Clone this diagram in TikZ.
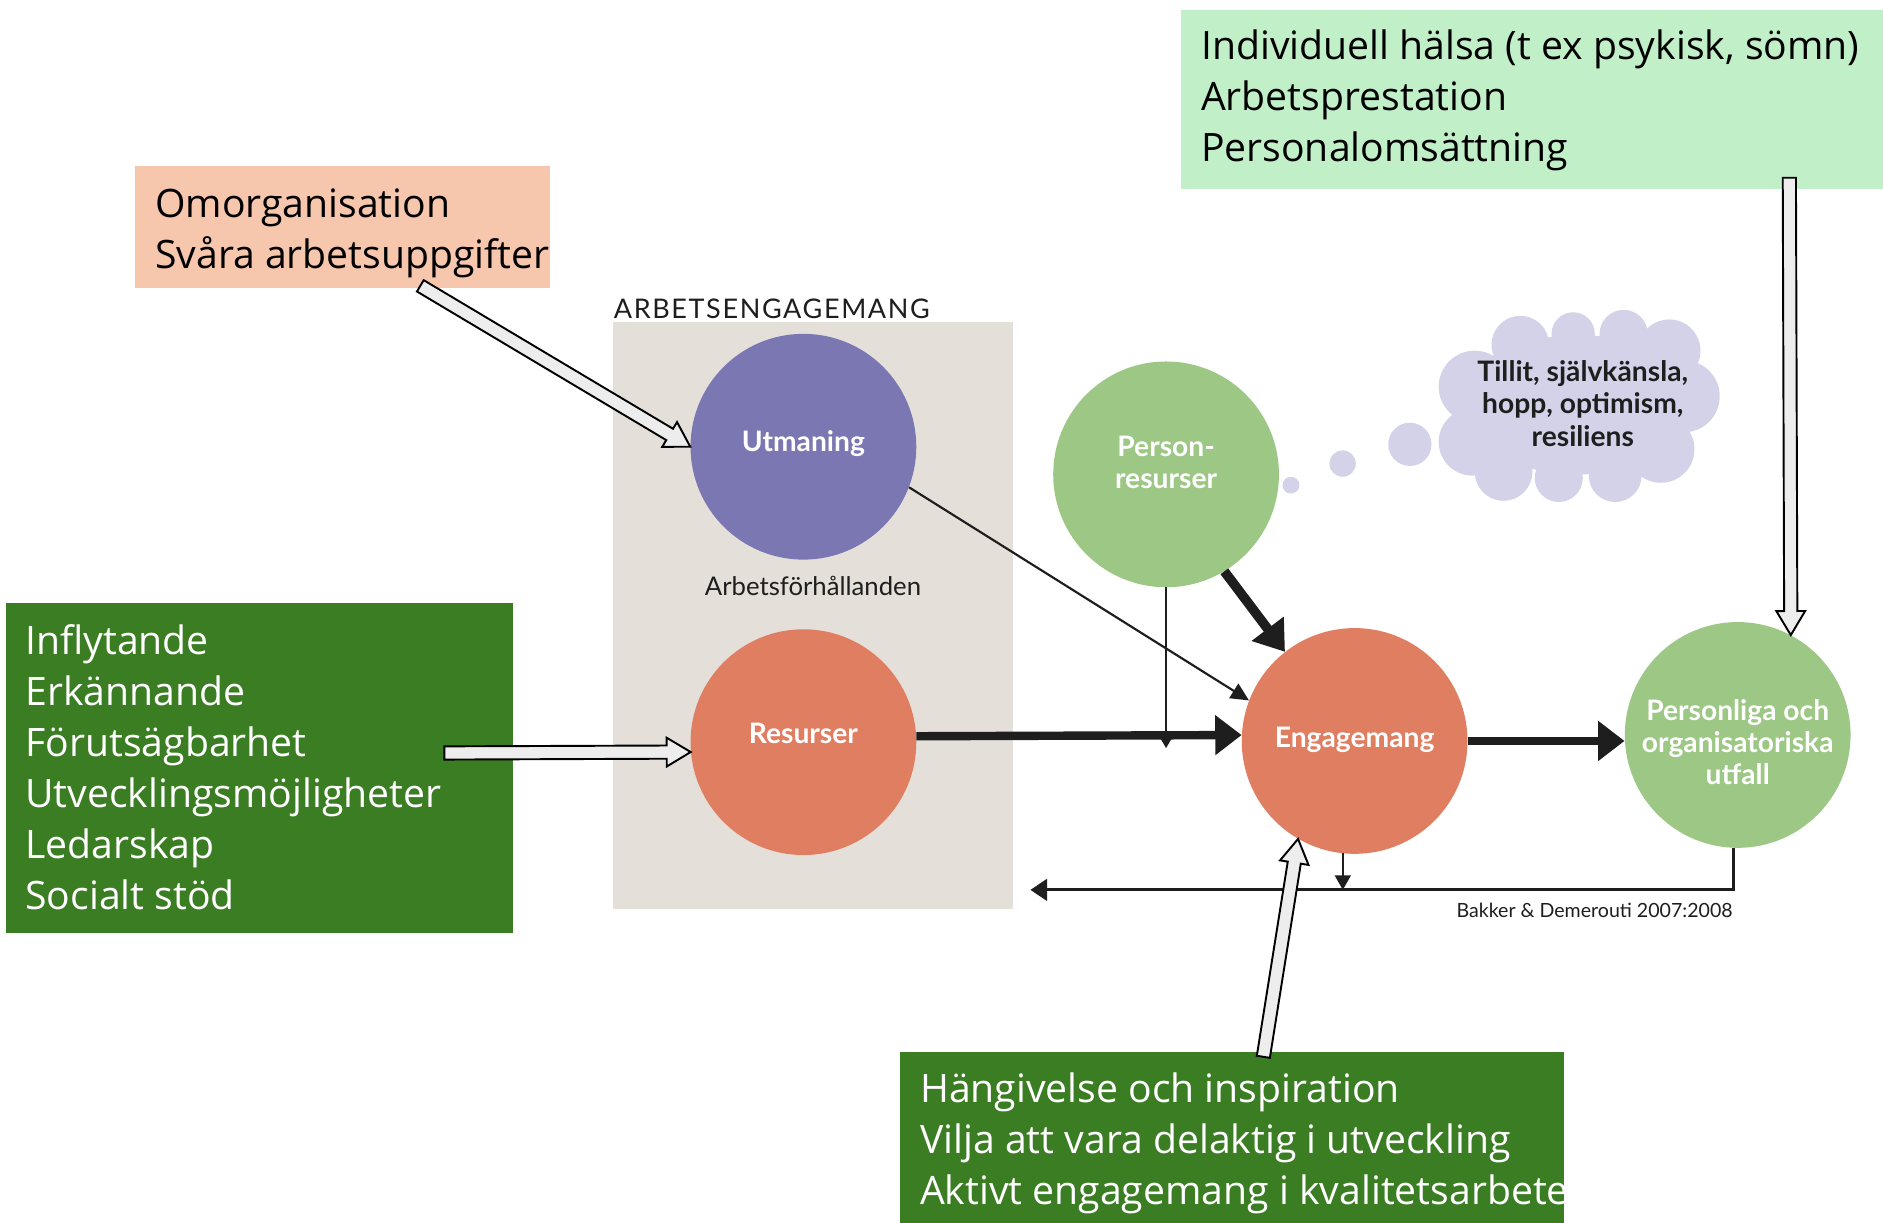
\documentclass[tikz,border=0pt]{standalone}
\usepackage{fontspec}
\usetikzlibrary{arrows.meta,calc}
\newfontfamily\osfont{Open Sans}
\newfontfamily\latofont{Lato}
\definecolor{peach}{HTML}{F6C6AD}
\definecolor{mint}{HTML}{C1F0C8}
\definecolor{dkgreen}{HTML}{3B7D23}
\definecolor{panelgray}{HTML}{E4E0D9}
\definecolor{violet1}{HTML}{7A77B2}
\definecolor{salmon1}{HTML}{E07E62}
\definecolor{green1}{HTML}{9DC784}
\definecolor{lav}{HTML}{D4D2E9}
\definecolor{hollowfill}{HTML}{EDEDED}
\definecolor{ink}{HTML}{1E1E1E}
\newcommand\hollowarrow[2]{%
  \coordinate (hA) at (#1);
  \coordinate (hB) at (#2);
  \coordinate (hH) at ($(hB)!20pt!(hA)$);
  \draw[hollow] ($(hA)!5.5pt!90:(hB)$) -- ($(hH)!5.5pt!90:(hB)$) -- ($(hH)!12pt!90:(hB)$) -- (hB)
    -- ($(hH)!12pt!-90:(hB)$) -- ($(hH)!5.5pt!-90:(hB)$) -- ($(hA)!5.5pt!-90:(hB)$) -- cycle;
}
\tikzset{
  box/.style={rectangle, inner sep=0pt, anchor=north west},
  boxtext/.style={anchor=west, align=left, inner sep=0pt, font=\osfont\fontsize{32.6}{42.5}\selectfont},
  circ/.style={circle, minimum size=188pt, inner sep=0pt},
  clbl/.style={inner sep=0pt, text=white, align=center,
    font=\latofont\bfseries\fontsize{23.5}{27}\selectfont},
  hollow/.style={draw=black, line width=1.6pt, fill=hollowfill, line join=miter},
  thick arrow/.style={draw=ink, line width=7pt, -{Triangle[length=22pt,width=32pt]}},
  thin arrow/.style={draw=ink, line width=1.8pt, -{Triangle[length=15pt,width=14pt]}},
  fbline/.style={draw=ink, line width=2.4pt},
  diatext/.style={inner sep=0pt, text=ink},
}
\begin{document}
\begin{tikzpicture}[x=1pt, y=-1pt]
\useasboundingbox (0,0) rectangle (1568,1018);
\fill[white] (0,0) rectangle (1568,1018);

% background panel
\node[box, fill=panelgray, minimum width=333pt, minimum height=489pt] (panel) at (510,268) {};
\node[diatext, anchor=base west, font=\latofont\fontsize{22.5}{26}\selectfont\addfontfeatures{LetterSpace=6}] (ptitle) at (511,265) {ARBETSENGAGEMANG};
\node[diatext, font=\latofont\fontsize{21.4}{24}\selectfont] (afh) at (677,488) {Arbetsförhållanden};

% thought cloud
\begin{scope}[fill=lav]
  \fill (1315,337) ellipse [x radius=100, y radius=58];
  \fill (1228,322) circle [radius=30];
  \fill (1226,368) circle [radius=28];
  \fill (1252,393) circle [radius=24];
  \fill (1298,398) circle [radius=20];
  \fill (1345,396) circle [radius=22];
  \fill (1383,374) circle [radius=28];
  \fill (1402,330) circle [radius=30];
  \fill (1390,292) circle [radius=26];
  \fill (1352,278) circle [radius=20];
  \fill (1310,278) circle [radius=18];
  \fill (1266,287) circle [radius=24];
  \fill (1174,370) circle [radius=18];
  \fill (1118,386) circle [radius=11];
  \fill (1075,404) circle [radius=7];
\end{scope}
\node[diatext, align=center, font=\latofont\bfseries\fontsize{23.5}{27}\selectfont] (cloud) at (1318,336) {Tillit, självkänsla,\\hopp, optimism,\\resiliens};

% circles
\node[circ, fill=violet1] (utm) at (669,372) {};
\node[circ, fill=salmon1] (res) at (669,618) {};
\node[circ, fill=green1] (per) at (971,395) {};
\node[circ, fill=salmon1] (eng) at (1128,617) {};
\node[circ, fill=green1] (out) at (1447,612) {};
\node[clbl] (utmL) at ([yshift=3pt]utm.center) {Utmaning};
\node[clbl] (resL) at ([yshift=7pt]res.center) {Resurser};
\node[clbl] (perL) at ([yshift=10pt]per.center) {Person-\\resurser};
\node[clbl] (engL) at ([yshift=1pt]eng.center) {Engagemang};
\node[clbl] (outL) at ([yshift=-6pt]out.center) {Personliga och\\organisatoriska\\utfall};

% connectors
\draw[thin arrow] (utm.-21) -- (eng.159);
\draw[draw=ink, line width=1.6pt, -{Triangle[length=9pt,width=10pt]}] (per.south) -- ([yshift=-6pt]per.south |- eng.west);
\draw[thick arrow] (res.3) -- (eng.177);
\draw[draw=ink, line width=8pt, -{Triangle[length=24pt,width=32pt]}] (per.-59) -- (eng.128);
\draw[thick arrow] (eng.east) -- (eng.east -| out.west);
\coordinate (fbend) at (858,741);
\draw[fbline, -{Triangle[length=14pt,width=18pt]}] (out.268) |- (fbend);
\draw[draw=ink, line width=2pt, -{Triangle[length=12pt,width=13pt]}] (eng.264) -- (eng.264 |- fbend);
\node[diatext, anchor=east, font=\latofont\fontsize{16.3}{19}\selectfont] (ref) at (1443,758) {Bakker \& Demerouti 2007:2008};

% text boxes
\node[box, fill=peach, minimum width=346pt, minimum height=102pt] (pbox) at (112,138) {};
\node[boxtext, text=black] (ptext) at ([xshift=17pt,yshift=-5pt]pbox.west) {Omorganisation\\Svåra arbetsuppgifter};

\node[box, fill=mint, minimum width=585pt, minimum height=149pt] (mbox) at (983,8) {};
\node[boxtext, text=black] (mtext) at ([xshift=17pt,yshift=-1pt]mbox.west) {Individuell hälsa (t ex psykisk, sömn)\\Arbetsprestation\\Personalomsättning};

\node[box, fill=dkgreen, minimum width=422pt, minimum height=275pt] (lbox) at (5,502) {};
\node[boxtext, text=white] (ltext) at ([xshift=16pt,yshift=1pt]lbox.west) {Inflytande\\Erkännande\\Förutsägbarhet\\Utvecklingsmöjligheter\\Ledarskap\\Socialt stöd};

\node[box, fill=dkgreen, minimum width=553pt, minimum height=142pt] (bbox) at (749,876) {};
\node[boxtext, text=white] (btext) at ([xshift=17pt,yshift=-5pt]bbox.west) {Hängivelse och inspiration\\Vilja att vara delaktig i utveckling\\Aktivt engagemang i kvalitetsarbete};

% hollow block arrows
\coordinate (t1) at (350,238);
\coordinate (t2) at (370,627);
\coordinate (t3) at (1490,148);
\coordinate (t4) at (1052,880);
\hollowarrow{t1}{utm.180}
\hollowarrow{t2}{res.185}
\hollowarrow{t3}{out.62}
\hollowarrow{t4}{eng.240}
\end{tikzpicture}
\end{document}
